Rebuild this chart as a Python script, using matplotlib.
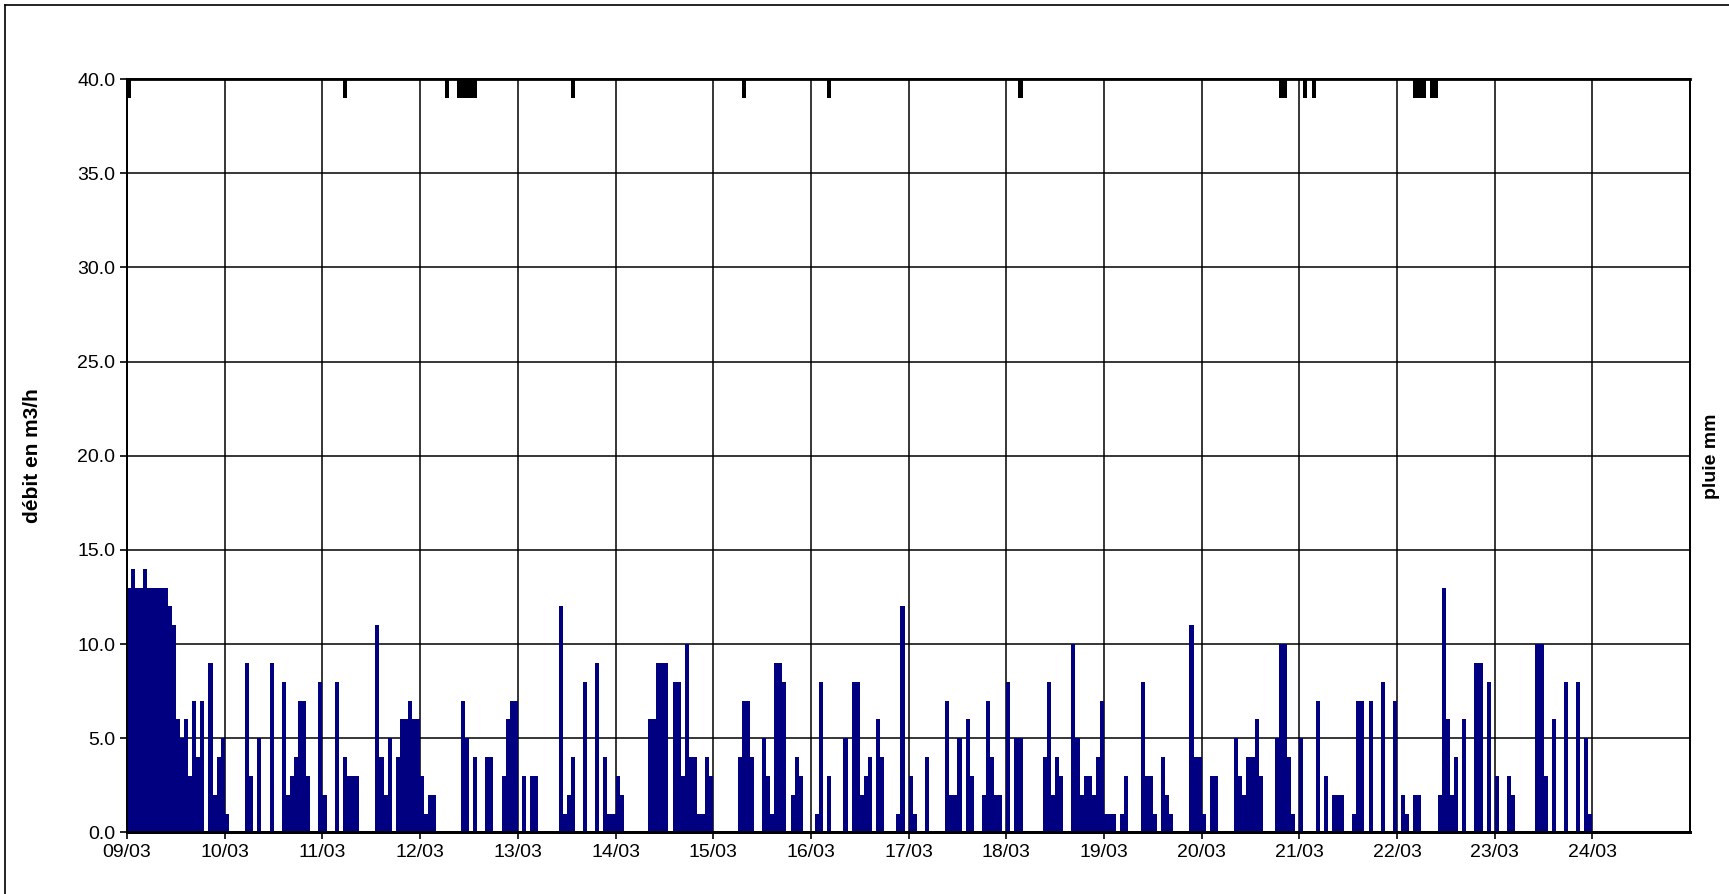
import numpy as np
import matplotlib.pyplot as plt
from matplotlib.lines import Line2D

plt.rcParams['font.family'] = ['Liberation Sans', 'DejaVu Sans']

days = ['09/03', '10/03', '11/03', '12/03', '13/03', '14/03', '15/03', '16/03',
        '17/03', '18/03', '19/03', '20/03', '21/03', '22/03', '23/03', '24/03']

# débit horaire en m3/h, 24 valeurs par jour
d09 = [13, 14, 13, 13, 14, 13, 13, 13, 13, 13, 12, 11, 6, 5, 6, 3, 7, 4, 7, 0, 9, 2, 4, 5]
d10 = [1, 0, 0, 0, 0, 9, 3, 0, 5, 0, 0, 9, 0, 0, 8, 2, 3, 4, 7, 7, 3, 0, 0, 8]
d11 = [2, 0, 0, 8, 0, 4, 3, 3, 3, 0, 0, 0, 0, 11, 4, 2, 5, 0, 4, 6, 6, 7, 6, 6]
d12 = [3, 1, 2, 2, 0, 0, 0, 0, 0, 0, 7, 5, 0, 4, 0, 0, 4, 4, 0, 0, 3, 6, 7, 7]
d13 = [0, 3, 0, 3, 3, 0, 0, 0, 0, 0, 12, 1, 2, 4, 0, 0, 8, 0, 0, 9, 0, 4, 1, 1]
d14 = [3, 2, 0, 0, 0, 0, 0, 0, 6, 6, 9, 9, 9, 0, 8, 8, 3, 10, 4, 4, 1, 1, 4, 3]
d15 = [0, 0, 0, 0, 0, 0, 4, 7, 7, 4, 0, 0, 5, 3, 1, 9, 9, 8, 0, 2, 4, 3, 0, 0]
d16 = [0, 1, 8, 0, 3, 0, 0, 0, 5, 0, 8, 8, 2, 3, 4, 0, 6, 4, 0, 0, 0, 1, 12, 0]
d17 = [3, 1, 0, 0, 4, 0, 0, 0, 0, 7, 2, 2, 5, 0, 6, 3, 0, 0, 2, 7, 4, 2, 2, 0]
d18 = [8, 0, 5, 5, 0, 0, 0, 0, 0, 4, 8, 2, 4, 3, 0, 0, 10, 5, 2, 3, 3, 2, 4, 7]
d19 = [1, 1, 1, 0, 1, 3, 0, 0, 0, 8, 3, 3, 1, 0, 4, 2, 1, 0, 0, 0, 0, 11, 4, 4]
d20 = [1, 0, 3, 3, 0, 0, 0, 0, 5, 3, 2, 4, 4, 6, 3, 0, 0, 0, 5, 10, 10, 4, 1, 0]
d21 = [5, 0, 0, 0, 7, 0, 3, 0, 2, 2, 2, 0, 0, 1, 7, 7, 0, 7, 0, 0, 8, 0, 0, 7]
d22 = [0, 2, 1, 0, 2, 2, 0, 0, 0, 0, 2, 13, 6, 2, 4, 0, 6, 0, 0, 9, 9, 0, 8, 0]
d23 = [3, 0, 0, 3, 2, 0, 0, 0, 0, 0, 10, 10, 3, 0, 6, 0, 0, 8, 0, 0, 8, 0, 5, 1]

# pluie : heure depuis le 09/03 00h et hauteur en mm
rain_hour = [0, 53, 78, 81, 82, 83, 84, 85, 109, 151, 172, 219,
             283, 284, 289, 291, 316, 317, 318, 320, 321]
rain_mm = [0.2, 0.2, 0.2, 0.2, 0.2, 0.2, 0.2, 0.2, 0.2, 0.2, 0.2, 0.2,
           0.2, 0.2, 0.2, 0.2, 0.2, 0.2, 0.2, 0.2, 0.2]

debit = (d09 + d10 + d11 + d12 + d13 + d14 + d15 + d16 + d17 + d18
         + d19 + d20 + d21 + d22 + d23)
t = np.arange(len(debit)) / 24.0

fig = plt.figure(figsize=(17.29, 8.94), dpi=100)
ax = fig.add_axes([0.0735, 0.0688, 0.904, 0.8428])

ax.bar(t, debit, width=1 / 24, align='edge', color='#000080', linewidth=0, zorder=3)
ax.set_xlim(0, 16)
ax.set_ylim(0, 40)
ax.set_yticks(np.arange(0, 41, 5))
ax.yaxis.set_major_formatter('{x:.1f}')
ax.set_xticks(range(16))
ax.set_xticklabels(days)
ax.grid(True, color='black', linewidth=1.1)
ax.set_axisbelow(True)
ax.tick_params(direction='out', length=5, width=1.2, labelsize=14, colors='black')
for s in ax.spines.values():
    s.set_linewidth(1.3)
ax.spines['bottom'].set_linewidth(2)

ax2 = ax.twinx()
ax2.bar(np.array(rain_hour) / 24.0, rain_mm, width=1 / 24, align='edge',
        color='black', linewidth=0, zorder=3)
ax2.set_ylim(8, 0)
ax2.set_yticks([])
ax2.set_xlim(0, 16)
for s in ax2.spines.values():
    s.set_linewidth(1.3)
ax2.spines['top'].set_linewidth(2)
ax2.spines['bottom'].set_linewidth(2)

fig.text(33 / 1729, 0.49, 'débit en m3/h', rotation=90, ha='center', va='center',
         fontsize=15, fontweight='bold')
fig.text(1712 / 1729, 0.49, 'pluie mm', rotation=90, ha='center', va='center',
         fontsize=14, fontweight='bold')

# cadre du graphique
fig.add_artist(Line2D([5 / 1729, 1], [1 - 5 / 894, 1 - 5 / 894], color='black', lw=1.2))
fig.add_artist(Line2D([5 / 1729, 5 / 1729], [0, 1 - 5 / 894], color='black', lw=1.2))

fig.savefig('out.png', dpi=100)
